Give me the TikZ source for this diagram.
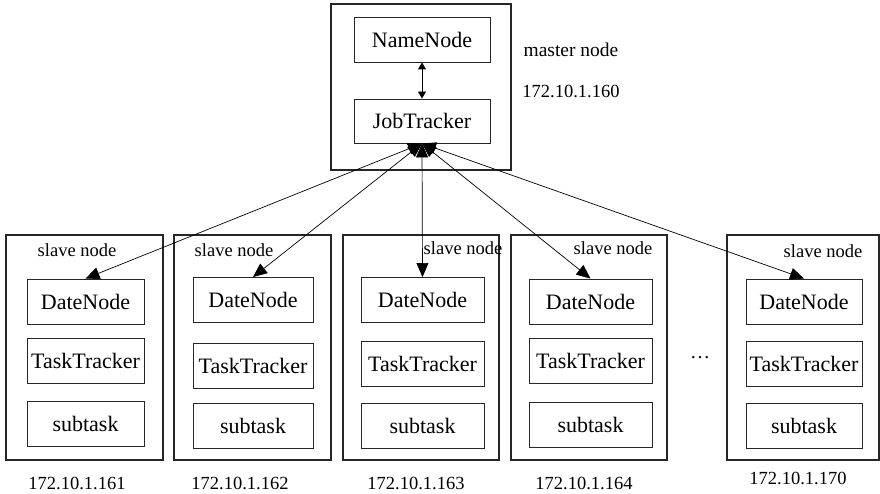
\documentclass[tikz,border=0pt]{standalone}
\usepackage{fontspec}
\setmainfont{Liberation Serif}
\usetikzlibrary{arrows.meta}
\begin{document}
\begin{tikzpicture}[x=1pt,y=-1pt,
  outerbox/.style={draw=black!85,line width=1.2pt,inner sep=0pt},
  innerbox/.style={draw=black!85,line width=0.9pt,inner sep=0pt,minimum height=45pt,
     font=\fontsize{22}{24}\selectfont},
  lbl/.style={inner sep=0pt,font=\fontsize{18.5}{20}\selectfont},
  conn/.style={line width=0.7pt,{Triangle[length=14pt,width=12pt]}-{Triangle[length=14pt,width=12pt]}},
  ]
\useasboundingbox (0,0) rectangle (880,494);
% master
\node[outerbox,minimum width=180pt,minimum height=166pt] (master) at (421,87) {};
\node[innerbox,minimum width=136pt] (nn) at (422,39.5) {NameNode};
\node[innerbox,minimum width=136pt,minimum height=44pt] (jt) at (422,121) {JobTracker};
\draw[line width=0.9pt,{Triangle[length=7pt,width=8pt]}-{Triangle[length=7pt,width=8pt]}] (nn) -- (jt);
\node[lbl,font=\fontsize{19.5}{21}\selectfont] (mlbl) at (571,50) {master node};
\node[lbl] (mip) at (571,91) {172.10.1.160};
% slaves
\foreach \i/\cx/\w/\ix/\iw/\dy/\ty/\sy/\lx/\ly/\ipx/\ipy in {
  1/84.5/157/85.5/117/301.5/360.5/423.5/77/250/77/483,
  2/252.5/157/253/120/300/365.5/426/234/250/240/483,
  3/421/156/422.5/123/300/364/426/463/248/416/483,
  4/589/156/590.5/123/301.5/361/424.5/613/248/584/483,
  5/803/152/804/116/301.5/364/426/823/251/798/478}{
  \node[outerbox,minimum width=\w pt,minimum height=225pt] (s\i) at (\cx,347.5) {};
  \node[innerbox,minimum width=\iw pt] (dn\i) at (\ix,\dy) {DateNode};
  \node[innerbox,minimum width=\iw pt] (tt\i) at (\ix,\ty) {TaskTracker};
  \node[innerbox,minimum width=\iw pt] (st\i) at (\ix,\sy) {subtask};
  \node[lbl] (sl\i) at (\lx,\ly) {slave node};
  \node[lbl] (ip\i) at (\ipx,\ipy) {172.10.1.1\ifcase\i\or61\or62\or63\or64\or70\fi};
}
\node[lbl,font=\fontsize{20}{22}\selectfont] (dots) at (700,358) {\ldots};
% connectors
\foreach \i in {1,...,5}{
  \draw[conn] (jt.south) -- (dn\i.north);
}
\end{tikzpicture}
\end{document}
